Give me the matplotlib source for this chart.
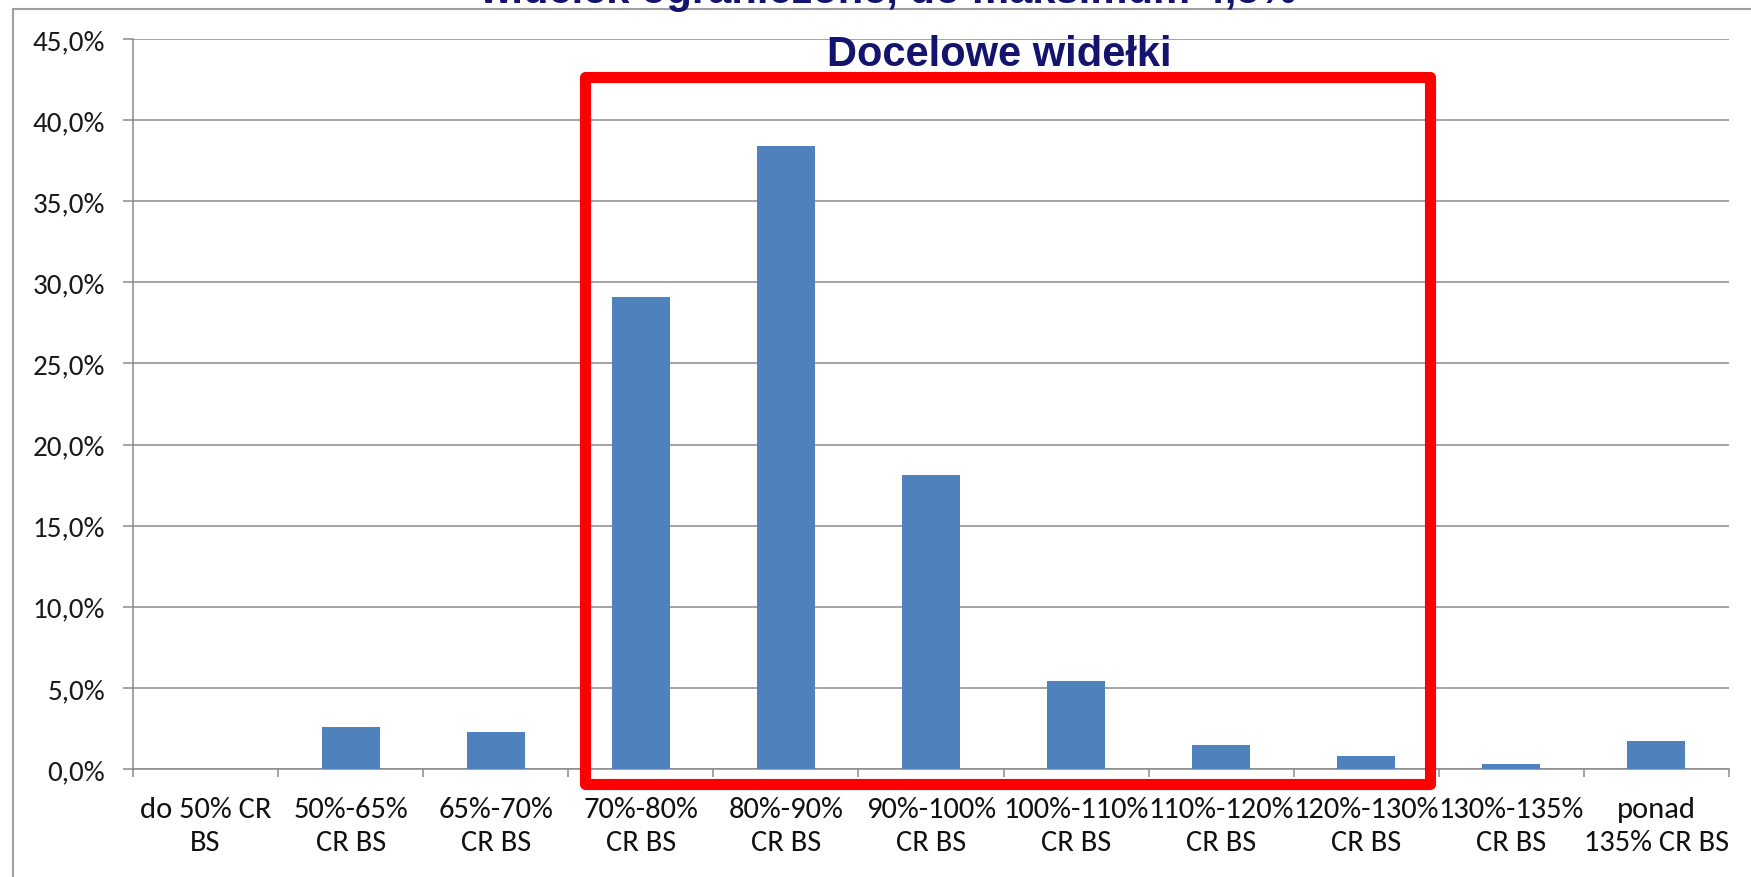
import matplotlib
matplotlib.use("Agg")
import matplotlib.pyplot as plt
import matplotlib.patches as patches
from matplotlib.lines import Line2D

# data
categories = ["do 50% CR\nBS", "50%-65%\nCR BS", "65%-70%\nCR BS", "70%-80%\nCR BS",
              "80%-90%\nCR BS", "90%-100%\nCR BS", "100%-110%\nCR BS", "110%-120%\nCR BS",
              "120%-130%\nCR BS", "130%-135%\nCR BS", "ponad\n135% CR BS"]
shares = [0.0, 2.6, 2.3, 29.1, 38.4, 18.1, 5.4, 1.5, 0.8, 0.3, 1.7]
y_ticks = [0, 5, 10, 15, 20, 25, 30, 35, 40, 45]
y_labels = [("%.1f%%" % v).replace(".", ",") for v in y_ticks]
box_title = "Docelowe widełki"
top_title = "widełek ograniczone, do maksimum 4,5%"

navy = "#14146e"
bar_blue = "#4F81BD"
grid_gray = "#8a8a8a"
label_font = ["Carlito", "Archivo Narrow"]

W, H = 1751, 878
fig = plt.figure(figsize=(W / 100, H / 100), dpi=100)
ax = fig.add_axes([133 / W, 1 - 770 / H, (1729 - 133) / W, (770 - 40) / H])

x = list(range(len(categories)))
ax.bar(x, shares, width=0.4, color=bar_blue, zorder=3)

ax.set_xlim(-0.5, len(categories) - 0.5)
ax.set_ylim(0, 45)

# y axis
ax.set_yticks(y_ticks)
ax.set_yticklabels(y_labels, family=label_font, fontsize=21, color="#1a1a1a")
ax.tick_params(axis="y", length=7, width=1.1, color=grid_gray, pad=13)
ax.yaxis.grid(True, color=grid_gray, linewidth=1.1, zorder=0)

# x axis: ticks at the boundaries, labels at the centres
ax.set_xticks([i - 0.5 for i in range(len(categories) + 1)])
ax.set_xticklabels([])
ax.tick_params(axis="x", which="major", length=6, width=1.1, color=grid_gray)
ax.set_xticks(x, minor=True)
ax.set_xticklabels(categories, minor=True, family=label_font,
                   fontsize=22, color="#111111", linespacing=1.35)
ax.tick_params(axis="x", which="minor", length=0, pad=19.5)

for side in ["top", "right"]:
    ax.spines[side].set_visible(False)
for side in ["left", "bottom"]:
    ax.spines[side].set_color(grid_gray)
    ax.spines[side].set_linewidth(1.1)

# red box around target range
x0, x1 = 2.615, 8.439
y0, y1 = -0.93, 42.66
rect = patches.Rectangle((x0, y0), x1 - x0, y1 - y0, fill=False,
                         edgecolor="#FF0000", linewidth=8, joinstyle="round",
                         clip_on=False, zorder=5)
ax.add_patch(rect)

ax.text(5.47, 44.1, box_title, ha="center", va="center", fontsize=30,
        fontweight="bold", color=navy, family="Liberation Sans", zorder=6)

# title cut off at the very top
fig.text(888 / W, 1 - 3 / H, top_title, ha="center", va="baseline", fontsize=30,
         fontweight="bold", color=navy, family="Liberation Sans")

# outer chart border (left and top visible)
fig.add_artist(Line2D([13 / W, 13 / W], [0, 1 - 10 / H], color="#a0a0a0", linewidth=1.5))
fig.add_artist(Line2D([13 / W, 1], [1 - 10 / H, 1 - 10 / H], color="#a0a0a0", linewidth=1.5))

fig.savefig("out.png", dpi=100)
